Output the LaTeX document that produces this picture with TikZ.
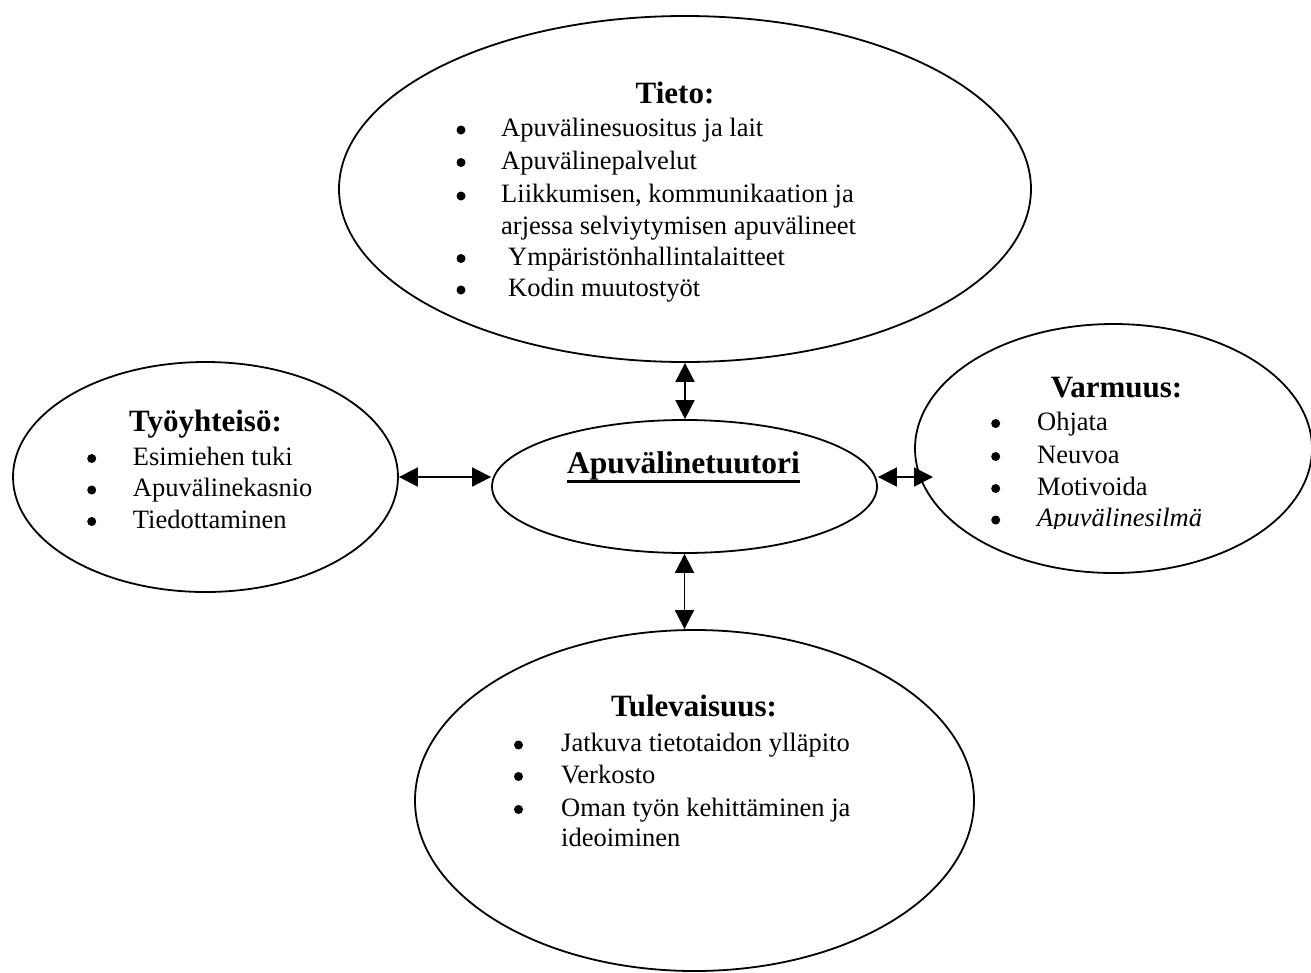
\documentclass[tikz,border=0pt]{standalone}
\usepackage{fontspec}
\setmainfont{Liberation Serif}
\usetikzlibrary{arrows.meta,shapes.geometric}
\begin{document}
\begin{tikzpicture}[x=1pt,y=-1pt,
  bubble/.style={draw,ellipse,line width=1.8pt,inner sep=0pt},
  head/.style={font=\fontsize{31}{36}\selectfont\bfseries,anchor=base,inner sep=0pt},
  item/.style={font=\fontsize{26.5}{32}\selectfont,anchor=base west,inner sep=0pt},
  dot/.style={circle,fill,inner sep=0pt,minimum size=9pt},
  link/.style={line width=1.8pt,{Triangle[length=19pt,width=19pt]}-{Triangle[length=19pt,width=19pt]}}]
\useasboundingbox (0,0) rectangle (1311,972);
\clip (0,0) rectangle (1311,972);

% the five bubbles
\node[bubble,minimum width=692pt,minimum height=346pt] (tieto) at (685,189) {};
\node[bubble,minimum width=385pt,minimum height=230pt] (tyo) at (205.5,477) {};
\node[bubble,minimum width=385pt,minimum height=133pt] (center) at (684.5,486.5) {};
\node[bubble,minimum width=397pt,minimum height=249pt] (varmuus) at (1113.5,448.5) {};
\node[bubble,minimum width=559pt,minimum height=341pt] (tulev) at (694.5,800.5) {};

% connectors
\coordinate (rtip) at (933,477);
\draw[link] (tieto.south) -- (tieto.south |- center.north);
\draw[link] (tyo.east) -- (tyo.east -| center.west);
\draw[link] (center.east |- rtip) -- (rtip);
\draw[link] (center.south) -- (center.south |- tulev.north);

% central title with its underline
\node[head,font=\fontsize{31.5}{36}\selectfont\bfseries] (ctitle) at (683.5,473) {Apuvälinetuutori};
\draw[line width=3.3pt] ([yshift=-8.7pt]ctitle.base west) -- ([yshift=-8.7pt]ctitle.base east);

% Tieto
\node[head] (tt) at (675,103) {Tieto:};
\node[dot] (tb1) at (461,130) {}; \node[item] (ti1) at (501,136.7) {Apuvälinesuositus ja lait};
\node[dot] (tb2) at (461,162.5) {}; \node[item] (ti2) at (501,169) {Apuvälinepalvelut};
\node[dot] (tb3) at (461,196) {}; \node[item] (ti3) at (501,202.7) {Liikkumisen, kommunikaation ja};
\node[item] (ti4) at (501,234) {arjessa selviytymisen apuvälineet};
\node[dot] (tb5) at (461,258.5) {}; \node[item] (ti5) at (508,265) {Ympäristönhallintalaitteet};
\node[dot] (tb6) at (461,290) {}; \node[item] (ti6) at (508,296.7) {Kodin muutostyöt};

% Työyhteisö
\node[head] (yt) at (205.5,431.7) {Työyhteisö:};
\node[dot] (yb1) at (91.7,458.5) {}; \node[item] (yi1) at (132.7,465) {Esimiehen tuki};
\node[dot] (yb2) at (91.7,490) {}; \node[item] (yi2) at (132.7,496.7) {Apuvälinekasnio};
\node[dot] (yb3) at (91.7,521.5) {}; \node[item] (yi3) at (132.7,528) {Tiedottaminen};

% Varmuus
\node[head] (vt) at (1116.5,397) {Varmuus:};
\node[dot] (vb1) at (995.7,423.5) {}; \node[item] (vi1) at (1037,430) {Ohjata};
\node[dot] (vb2) at (995.7,456.5) {}; \node[item] (vi2) at (1037,463) {Neuvoa};
\node[dot] (vb3) at (995.7,488.5) {}; \node[item] (vi3) at (1037,495) {Motivoida};
\begin{scope}
  \clip (900,500) rectangle (1311,528.5);
  \node[dot] (vb4) at (995.7,520) {}; \node[item,font=\fontsize{26.5}{32}\selectfont\itshape] (vi4) at (1037,526.7) {Apuvälinesilmä};
\end{scope}

% Tulevaisuus
\node[head] (ut) at (694,716.7) {Tulevaisuus:};
\node[dot] (ub1) at (518.5,745) {}; \node[item] (ui1) at (561,751.7) {Jatkuva tietotaidon ylläpito};
\node[dot] (ub2) at (518.5,776.5) {}; \node[item] (ui2) at (561,783) {Verkosto};
\node[dot] (ub3) at (518.5,809.5) {}; \node[item] (ui3) at (561,816) {Oman työn kehittäminen ja};
\node[item] (ui4) at (561,846.7) {ideoiminen};
\end{tikzpicture}
\end{document}
